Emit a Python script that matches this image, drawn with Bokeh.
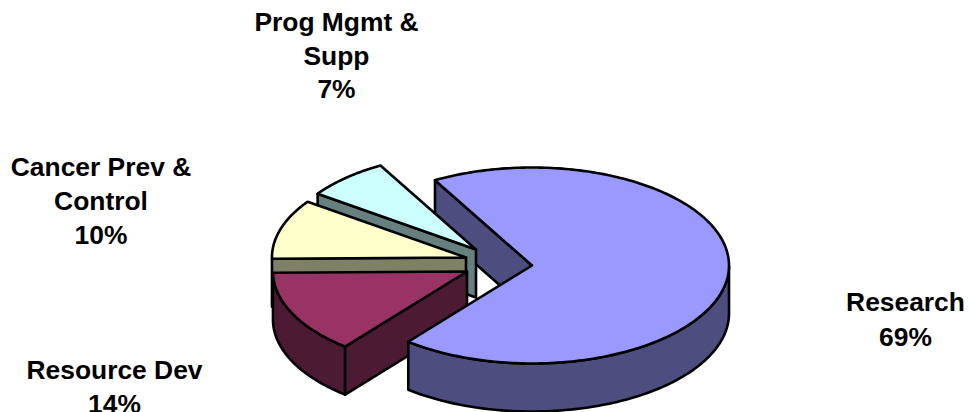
import math
from bokeh.plotting import figure
from bokeh.models import Range1d
from bokeh.core.properties import value
from bokeh.embed import file_html
from bokeh.resources import INLINE

# Data
categories = ["Research", "Resource Dev", "Cancer Prev & Control", "Prog Mgmt & Supp"]
shares = [69, 14, 10, 7]
pct_labels = ["69%", "14%", "10%", "7%"]
top_colors = ["#9999FF", "#993366", "#FFFFCC", "#CCFFFF"]
side_colors = ["#4D4D80", "#4D1A33", "#808066", "#668080"]

# Layout (reference pixel space)
W, H = 969, 412
RX, RY, DEPTH = 197, 98, 48
START_DEG = 119.5   # where Research begins, counter-clockwise from +x
apex = [(531.5, 265), (466.5, 271), (465.5, 257), (475.5, 249)]
scale = [1.0, 0.985, 0.985, 0.985]
label_lines = [
    (["Research", "69%"], 905, [301, 336]),
    (["Resource Dev", "14%"], 114, [369, 403]),
    (["Cancer Prev &", "Control", "10%"], 100.5, [166.5, 200, 234]),
    (["Prog Mgmt &", "Supp", "7%"], 336, [21.5, 55, 88]),
]

p = figure(width=W, height=H, output_backend="svg", toolbar_location=None,
           x_range=Range1d(0, W), y_range=Range1d(H, 0), min_border=0)
p.axis.visible = False
p.grid.visible = False
p.outline_line_color = None
p.background_fill_color = "white"


def pt(i, a, dz=0):
    r = math.radians(a)
    c = apex[i]
    return c[0] + scale[i] * RX * math.cos(r), c[1] - scale[i] * RY * math.sin(r) + dz


def arc(i, a0, a1, dz=0, n=90):
    return [pt(i, a0 + (a1 - a0) * k / n, dz) for k in range(n + 1)]


def poly(points, fill):
    p.patch([q[0] for q in points], [q[1] for q in points], fill_color=fill,
            line_color="black", line_width=2.6, line_join="round")


def radial_face(i, a):
    c = apex[i]
    e = pt(i, a)
    poly([c, e, (e[0], e[1] + DEPTH), (c[0], c[1] + DEPTH)], side_colors[i])


# angular extents, clockwise from the start
spans = []
a = START_DEG
for v in shares:
    b = a - v * 3.6
    spans.append((a, b))
    a = b

r_a0, r_a1 = spans[0]

# Research back face
radial_face(0, r_a0)

# Prog Mgmt, Cancer Prev: lower radial face + top
for i in (3, 2):
    a0, a1 = spans[i]
    radial_face(i, a0)
    poly([apex[i]] + arc(i, a0, a1), top_colors[i])

# Resource Dev: wall, radial face, top
a0, a1 = spans[1]
poly(arc(1, a0, a1) + arc(1, a1, a0, DEPTH), side_colors[1])
radial_face(1, a0)
poly([apex[1]] + arc(1, a0, a1), top_colors[1])

# Research wall and top
wall_from = r_a1 + 360
poly(arc(0, wall_from, 360) + arc(0, 360, wall_from, DEPTH), side_colors[0])
poly([apex[0]] + arc(0, r_a0, r_a1, n=240), top_colors[0])

# Labels
for lines, x, ys in label_lines:
    p.text([x] * len(lines), ys, text=lines, text_font=value("Liberation Sans"),
           text_font_style="bold", text_font_size="26.4px", text_color="black",
           text_align="center", text_baseline="middle")

open("out.html", "w").write(file_html(p, INLINE))
